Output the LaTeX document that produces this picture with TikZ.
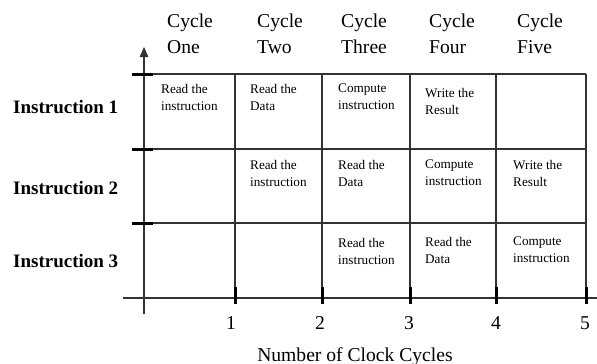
\documentclass[tikz,border=0pt]{standalone}
\usepackage{fontspec}
\setmainfont{Liberation Serif}
\usepackage{tikz}
\usetikzlibrary{
    arrows.meta,
    calc,
    positioning
}

\begin{document}
\begin{tikzpicture}[x=1pt, y=-1pt,
    cyclelabel/.style={anchor=north west, inner sep=0pt, align=left, font=\fontsize{19.6}{26}\selectfont},
    instrlabel/.style={anchor=base west, inner sep=0pt, font=\fontsize{19}{22}\selectfont\bfseries},
    celltext/.style={anchor=north west, inner sep=0pt, align=left, font=\fontsize{13.2}{17}\selectfont},
    ticklabel/.style={anchor=base, inner sep=0pt, font=\fontsize{19.6}{22}\selectfont},
    gridline/.style={line width=1.2pt, draw=black!80},
    tickmark/.style={line width=3pt, draw=black}]
                        \useasboundingbox (0,0) rectangle (597,364);

                        % axes
                        \coordinate (ybot) at (144,314);
                        \coordinate (ytop) at (144,47);
                        \coordinate (xleft) at (123,298);
                        \coordinate (xright) at (597,298);
                        \draw[gridline, -{Triangle[length=10pt, width=8.5pt]}] (ybot) -- (ytop);
                        \draw[gridline] (xleft) -- (xright);

                        % grid
                        \draw[gridline] (144,74) -- (586,74);
                        \draw[gridline] (144,149) -- (586,149);
                        \draw[gridline] (144,223) -- (586,223);
                        \draw[gridline] (235,74) -- (235,298);
                        \draw[gridline] (322,74) -- (322,298);
                        \draw[gridline] (410,74) -- (410,298);
                        \draw[gridline] (496,74) -- (496,298);
                        \draw[gridline] (586,74) -- (586,298);

                        % ticks
                        \draw[tickmark] (132,74) -- (153,74);
                        \draw[tickmark] (132,149) -- (153,149);
                        \draw[tickmark] (132,223) -- (153,223);
                        \draw[tickmark] (235,287) -- (235,304);
                        \draw[tickmark] (322,287) -- (322,304);
                        \draw[tickmark] (410,287) -- (410,304);
                        \draw[tickmark] (496,287) -- (496,304);
                        \draw[tickmark] (586,287) -- (586,304);

                        % column heads
                        \node[cyclelabel] (cyc1) at (167,14) {Cycle\\One};
                        \node[cyclelabel] (cyc2) at (257,14) {Cycle\\Two};
                        \node[cyclelabel] (cyc3) at (341,14) {Cycle\\Three};
                        \node[cyclelabel] (cyc4) at (429,14) {Cycle\\Four};
                        \node[cyclelabel] (cyc5) at (517,14) {Cycle\\Five};

                        % row heads
                        \node[instrlabel] (ins1) at (13,113) {Instruction 1};
                        \node[instrlabel] (ins2) at (13,194) {Instruction 2};
                        \node[instrlabel] (ins3) at (13,267) {Instruction 3};

                        % stages
                        \node[celltext] (s11) at (161,84) {Read the\\instruction};
                        \node[celltext] (s12) at (250,84) {Read the\\Data};
                        \node[celltext] (s13) at (338,84) {Compute\\instruction};
                        \node[celltext] (s14) at (425,88) {Write the\\Result};
                        \node[celltext] (s22) at (250,160) {Read the\\instruction};
                        \node[celltext] (s23) at (338,160) {Read the\\Data};
                        \node[celltext] (s24) at (425,160) {Compute\\instruction};
                        \node[celltext] (s25) at (513,160) {Write the\\Result};
                        \node[celltext] (s33) at (338,238) {Read the\\instruction};
                        \node[celltext] (s34) at (425,237) {Read the\\Data};
                        \node[celltext] (s35) at (513,237) {Compute\\instruction};

                        % cycle numbers
                        \node[ticklabel] (n1) at (231,329) {1};
                        \node[ticklabel] (n2) at (320,329) {2};
                        \node[ticklabel] (n3) at (409,329) {3};
                        \node[ticklabel] (n4) at (496,329) {4};
                        \node[ticklabel] (n5) at (585,329) {5};
                        \node[ticklabel] (xtitle) at (355,361) {Number of Clock Cycles};
                    \end{tikzpicture}
\end{document}
